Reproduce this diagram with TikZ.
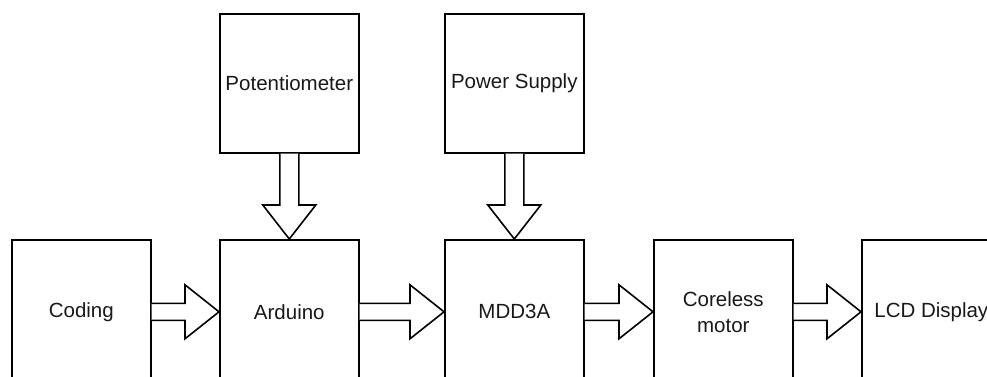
\documentclass[tikz,border=0pt]{standalone}
\usepackage{fontspec}
\setmainfont{Liberation Sans}
\usetikzlibrary{calc}
\tikzset{
  box/.style={draw=black, line width=1.6pt, minimum width=139pt, minimum height=139pt,
    inner sep=0pt, anchor=north west, align=center, text=black!90,
    font=\fontsize{20.5}{26}\selectfont},
  lowbox/.style={box, minimum height=144pt},
  blockarrow/.style={draw=black, line width=1.6pt, line join=miter, fill=white}
}
\newcommand{\harrow}[2]{%
  \draw[blockarrow] let \p1=(#1.east), \p2=(#2.west) in
    (\x1,\y1+8.5pt) -- (\x2-34pt,\y1+8.5pt) -- (\x2-34pt,\y1+27pt) -- (\x2,\y1)
    -- (\x2-34pt,\y1-27pt) -- (\x2-34pt,\y1-8.5pt) -- (\x1,\y1-8.5pt);}
\newcommand{\varrow}[2]{%
  \draw[blockarrow] let \p1=(#1.south), \p2=(#2.north) in
    (\x1-9.5pt,\y1) -- (\x1-9.5pt,\y2+34pt) -- (\x1-26.5pt,\y2+34pt) -- (\x1,\y2)
    -- (\x1+26.5pt,\y2+34pt) -- (\x1+9.5pt,\y2+34pt) -- (\x1+9.5pt,\y1);}
\begin{document}
\begin{tikzpicture}[x=1pt,y=-1pt]
\useasboundingbox (0,0) rectangle (987,376);
\clip (0,0) rectangle (987,376);
\fill[white] (0,0) rectangle (987,376);
\node[lowbox] (coding) at (11,239) {Coding};
\node[lowbox] (arduino) at (219,239) {Arduino};
\node[lowbox] (mdd) at (444,239) {MDD3A};
\node[lowbox] (motor) at (653,239) {Coreless\\motor};
\node[lowbox] (lcd) at (861,239) {LCD Display};
\node[box] (pot) at (219,13) {Potentiometer};
\node[box] (power) at (444,13) {Power Supply};
\harrow{coding}{arduino}
\harrow{arduino}{mdd}
\harrow{mdd}{motor}
\harrow{motor}{lcd}
\varrow{pot}{arduino}
\varrow{power}{mdd}
\end{tikzpicture}
\end{document}
